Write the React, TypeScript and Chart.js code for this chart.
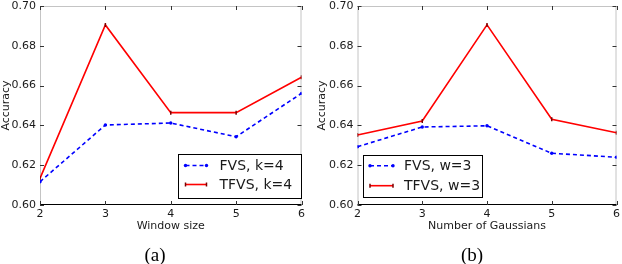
import React, { useEffect, useRef } from 'react';
import { Chart, registerables } from 'chart.js';

Chart.register(...registerables);

const xValues = [2, 3, 4, 5, 6];
const yTickValues = [0.6, 0.62, 0.64, 0.66, 0.68, 0.7];

const fvsWindow = [0.6117, 0.6402, 0.6412, 0.6343, 0.6561];
const tfvsWindow = [0.6134, 0.6905, 0.6464, 0.6464, 0.6642];
const fvsGauss = [0.6293, 0.6392, 0.6398, 0.626, 0.624];
const tfvsGauss = [0.6352, 0.6422, 0.6905, 0.6431, 0.6363];

const labelsWindow = ['FVS, k=4', 'TFVS, k=4'];
const labelsGauss = ['FVS, w=3', 'TFVS, w=3'];

const FONT = 'DejaVu Sans';
const TEXT = '#1a1a1a';

const framePlugin = {
  id: 'frame',
  beforeDatasetsDraw(chart: any) {
    const { ctx, chartArea } = chart;
    const { left, right, top, bottom } = chartArea;
    ctx.save();
    ctx.lineWidth = 1;
    ctx.strokeStyle = '#c4c4c4';
    ctx.beginPath();
    ctx.moveTo(left + 0.5, bottom);
    ctx.lineTo(left + 0.5, top + 0.5);
    ctx.lineTo(right - 0.5, top + 0.5);
    ctx.lineTo(right - 0.5, bottom);
    ctx.stroke();
    ctx.strokeStyle = '#000';
    ctx.beginPath();
    ctx.moveTo(left, bottom - 0.5);
    ctx.lineTo(right, bottom - 0.5);
    ctx.stroke();
    ctx.strokeStyle = '#333';
    const xs = chart.scales.x;
    const ys = chart.scales.y;
    ctx.beginPath();
    xValues.forEach((v) => {
      const px = Math.round(xs.getPixelForValue(v)) + 0.5;
      ctx.moveTo(px, bottom);
      ctx.lineTo(px, bottom - 4);
      ctx.moveTo(px, top);
      ctx.lineTo(px, top + 4);
    });
    yTickValues.forEach((v) => {
      const py = Math.round(ys.getPixelForValue(v)) + 0.5;
      ctx.moveTo(left, py);
      ctx.lineTo(left + 4, py);
      ctx.moveTo(right, py);
      ctx.lineTo(right - 4, py);
    });
    ctx.stroke();
    ctx.restore();
  },
};

const boxLegendPlugin = {
  id: 'boxLegend',
  afterDraw(chart: any, _args: any, opts: any) {
    const { ctx, chartArea } = chart;
    const bx = opts.anchor === 'right' ? chartArea.right - opts.width : chartArea.left + opts.offsetX;
    const by = chartArea.bottom - opts.offsetY - opts.height;
    ctx.save();
    ctx.fillStyle = '#fff';
    ctx.fillRect(bx, by, opts.width, opts.height);
    ctx.strokeStyle = '#000';
    ctx.lineWidth = 1;
    ctx.strokeRect(Math.round(bx) + 0.5, Math.round(by) + 0.5, opts.width - 1, opts.height - 1);
    chart.data.datasets.forEach((ds: any, i: number) => {
      const y = by + opts.rowStart + i * opts.rowGap;
      const x1 = bx + opts.sampleX;
      const x2 = x1 + opts.sampleW;
      ctx.setLineDash(ds.borderDash || []);
      ctx.strokeStyle = ds.borderColor;
      ctx.lineWidth = ds.borderWidth;
      ctx.beginPath();
      ctx.moveTo(x1, y);
      ctx.lineTo(x2, y);
      ctx.stroke();
      ctx.setLineDash([]);
      [x1, x2].forEach((px) => {
        if (ds.pointStyle === 'circle') {
          ctx.fillStyle = ds.pointBackgroundColor;
          ctx.beginPath();
          ctx.arc(px, y, ds.pointRadius, 0, Math.PI * 2);
          ctx.fill();
        } else {
          ctx.strokeStyle = ds.pointBorderColor;
          ctx.lineWidth = ds.pointBorderWidth;
          ctx.beginPath();
          ctx.moveTo(px, y - ds.pointRadius);
          ctx.lineTo(px, y + ds.pointRadius);
          ctx.stroke();
        }
      });
      ctx.fillStyle = TEXT;
      ctx.font = `14px "${FONT}"`;
      ctx.textBaseline = 'middle';
      ctx.textAlign = 'left';
      ctx.fillText(ds.label, bx + opts.textX, y + 0.5);
    });
    ctx.restore();
  },
};

type PanelProps = {
  left: number;
  xTitle: string;
  fvs: number[];
  tfvs: number[];
  labels: string[];
  padding: { left: number; right: number; top: number; bottom: number };
  yWidth: number;
  legend: any;
};

function Panel({ left, xTitle, fvs, tfvs, labels, padding, yWidth, legend }: PanelProps) {
  const ref = useRef<HTMLCanvasElement>(null);
  useEffect(() => {
    const chart = new Chart(ref.current as HTMLCanvasElement, {
      type: 'line',
      data: {
        datasets: [
          {
            label: labels[0],
            data: xValues.map((x, i) => ({ x, y: fvs[i] })),
            borderColor: '#0000ff',
            borderWidth: 1.6,
            borderDash: [4, 3],
            pointStyle: 'circle',
            pointRadius: 1.7,
            pointBackgroundColor: '#0000ff',
            pointBorderColor: '#0000ff',
            pointBorderWidth: 0,
            tension: 0,
            fill: false,
          } as any,
          {
            label: labels[1],
            data: xValues.map((x, i) => ({ x, y: tfvs[i] })),
            borderColor: '#ff0000',
            borderWidth: 1.6,
            pointStyle: 'line',
            rotation: 90,
            pointRadius: 2,
            pointBackgroundColor: '#7a0000',
            pointBorderColor: '#7a0000',
            pointBorderWidth: 1.5,
            tension: 0,
            fill: false,
          } as any,
        ],
      },
      options: {
        responsive: false,
        animation: false,
        devicePixelRatio: 1,
        layout: { padding },
        plugins: {
          legend: { display: false },
          tooltip: { enabled: false },
          boxLegend: legend,
        } as any,
        scales: {
          x: {
            type: 'linear',
            min: 2,
            max: 6,
            grid: { display: false, drawTicks: false },
            border: { display: false },
            ticks: {
              stepSize: 1,
              padding: 3,
              color: TEXT,
              maxRotation: 0,
              autoSkip: false,
              font: { family: FONT, size: 11 },
              callback: (v: any) => String(v),
            },
            title: {
              display: true,
              text: xTitle,
              color: TEXT,
              font: { family: FONT, size: 11 },
              padding: { top: 0, bottom: 31 },
            },
            afterBuildTicks: (s: any) => {
              s.ticks = xValues.map((v) => ({ value: v }));
            },
            afterFit: (s: any) => {
              s.height = 59;
              s.paddingLeft = 0;
              s.paddingRight = 0;
            },
          },
          y: {
            type: 'linear',
            min: 0.6,
            max: 0.7,
            grid: { display: false, drawTicks: false },
            border: { display: false },
            ticks: {
              padding: 4,
              color: TEXT,
              font: { family: FONT, size: 11 },
              callback: (v: any) => Number(v).toFixed(2),
            },
            title: {
              display: true,
              text: 'Accuracy',
              color: TEXT,
              font: { family: FONT, size: 11 },
              padding: { top: 0, bottom: 0 },
            },
            afterBuildTicks: (s: any) => {
              s.ticks = yTickValues.map((v) => ({ value: v }));
            },
            afterFit: (s: any) => {
              s.width = yWidth;
              s.paddingTop = 0;
              s.paddingBottom = 0;
            },
          },
        },
      } as any,
      plugins: [framePlugin, boxLegendPlugin],
    });
    return () => chart.destroy();
  }, []);
  return (
    <canvas
      ref={ref}
      width={311}
      height={264}
      style={{ position: 'absolute', left, top: 0, width: 311, height: 264 }}
    />
  );
}

const captionStyle: React.CSSProperties = {
  position: 'absolute',
  top: 244,
  width: 40,
  textAlign: 'center',
  fontFamily: '"Liberation Serif", "Times New Roman", serif',
  fontSize: 19,
  lineHeight: '21px',
  color: '#000',
};

export default function App() {
  return (
    <div style={{ position: 'absolute', left: 0, top: 0, width: 622, height: 264, background: '#fff', overflow: 'hidden' }}>
      <Panel
        left={0}
        xTitle="Window size"
        fvs={fvsWindow}
        tfvs={tfvsWindow}
        labels={labelsWindow}
        padding={{ left: 0, right: 9.5, top: 6, bottom: 0 }}
        yWidth={40}
        legend={{ anchor: 'right', width: 124, height: 45, offsetY: 6, offsetX: 0, rowStart: 11.5, rowGap: 19, sampleX: 8, sampleW: 21, textX: 42 }}
      />
      <Panel
        left={311}
        xTitle="Number of Gaussians"
        fvs={fvsGauss}
        tfvs={tfvsGauss}
        labels={labelsGauss}
        padding={{ left: 5, right: 4, top: 6, bottom: 0 }}
        yWidth={41.5}
        legend={{ anchor: 'left', width: 120, height: 43, offsetY: 7, offsetX: 5.5, rowStart: 10.7, rowGap: 20, sampleX: 7, sampleW: 23, textX: 41 }}
      />
      <div style={{ ...captionStyle, left: 135 }}>(a)</div>
      <div style={{ ...captionStyle, left: 452 }}>(b)</div>
    </div>
  );
}
